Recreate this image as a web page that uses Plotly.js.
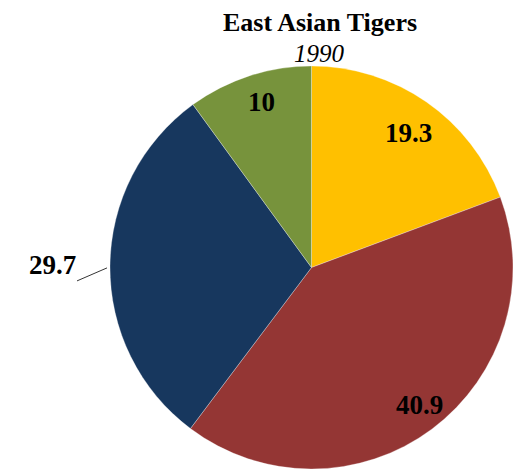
<!DOCTYPE html>
<html><head><meta charset="utf-8">
<script src="https://cdn.plot.ly/plotly-3.0.1.min.js"></script>
<style>html,body{margin:0;padding:0;background:#fff}</style>
</head><body>
<div id="chart" style="width:514px;height:470px"></div>
<script>
var labels = ["Slice A", "Slice B", "Slice C", "Slice D"];
var values = [19.3, 40.9, 29.7, 10];
var colors = ["#FFC000", "#943634", "#17375E", "#77933C"];
var titleText = "East Asian Tigers";
var subtitleText = "1990";

var serif = "Liberation Serif, Times New Roman, serif";
var trace = {
  type: "pie",
  labels: labels,
  values: values,
  sort: false,
  direction: "clockwise",
  rotation: 0,
  marker: {colors: colors, line: {color: "rgba(255,255,255,0.5)", width: 0.6}},
  textinfo: "none",
  hoverinfo: "label+value",
  showlegend: false
};
// label placement (paper coords of plot box)
var lblPos = [[0.7395, 0.834], [0.769, 0.159], null, [0.377, 0.911]];
var ann = [
  {text: "<i>" + subtitleText + "</i>", xref: "paper", yref: "paper", x: 0.521, y: 1.032,
   showarrow: false, font: {family: serif, size: 25, color: "#000"}, xanchor: "center", yanchor: "middle"},
  {text: "<b>" + values[2] + "</b>", xref: "paper", yref: "paper", x: -0.0074, y: 0.499,
   showarrow: true, arrowhead: 0, arrowwidth: 0.8, arrowcolor: "#000", ax: -30, ay: 13,
   font: {family: serif, size: 27, color: "#000"}, xanchor: "right", yanchor: "bottom", borderpad: 0}
];
for (var i = 0; i < values.length; i++) {
  if (!lblPos[i]) continue;
  ann.push({text: "<b>" + values[i] + "</b>", xref: "paper", yref: "paper", x: lblPos[i][0], y: lblPos[i][1],
            showarrow: false, font: {family: serif, size: 27, color: "#000"}, xanchor: "center", yanchor: "middle"});
}
var layout = {
  width: 514, height: 470,
  margin: {l: 110, r: 1, t: 66, b: 1},
  paper_bgcolor: "#fff",
  title: {text: "<b>" + titleText + "</b>", font: {family: serif, size: 26, color: "#000"},
          x: 320/514, xanchor: "center", y: 1 - 22/470, yanchor: "middle", xref: "container", yref: "container"},
  annotations: ann
};
Plotly.newPlot("chart", [trace], layout, {displayModeBar: false, staticPlot: true});
</script>
</body></html>
